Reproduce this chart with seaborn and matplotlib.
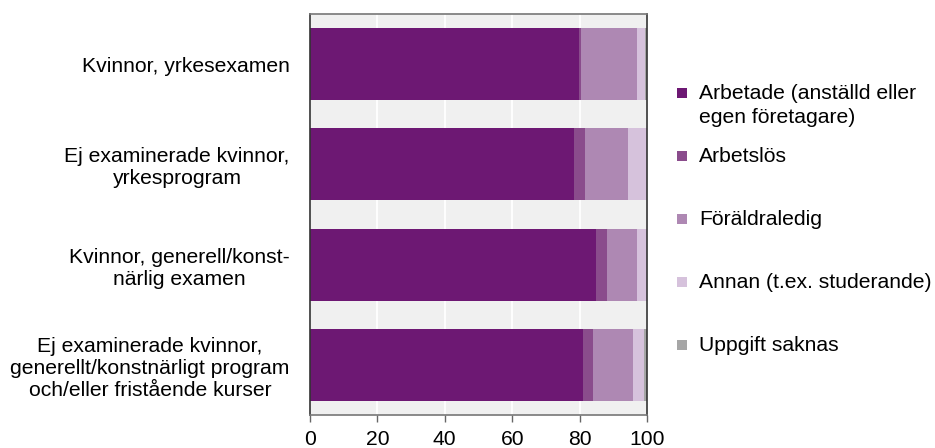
import matplotlib
matplotlib.use("Agg")
import matplotlib.pyplot as plt
from matplotlib.patches import Rectangle
import seaborn as sns
import pandas as pd

categories = [
    "Kvinnor, yrkesexamen",
    "Ej examinerade kvinnor,\nyrkesprogram",
    "Kvinnor, generell/konst-\nnärlig examen",
    "Ej examinerade kvinnor,\ngenerellt/konstnärligt program\noch/eller fristående kurser",
]
series_names = [
    "Arbetade (anställd eller\negen företagare)",
    "Arbetslös",
    "Föräldraledig",
    "Annan (t.ex. studerande)",
    "Uppgift saknas",
]
arbetade = [79.8, 78.4, 84.8, 81.0]
arbetslos = [0.7, 3.1, 3.4, 2.9]
foraldraledig = [16.5, 12.8, 8.7, 11.9]
annan = [2.3, 5.7, 3.1, 3.3]
uppgift_saknas = [0.7, 0.0, 0.0, 0.9]
colors = ["#6d1873", "#8a4c8c", "#ae88b3", "#d6c2dc", "#a6a6a6"]
xticks = [0, 20, 40, 60, 80, 100]

sns.set_theme(style="white")
plt.rcParams["font.family"] = ["Liberation Sans", "DejaVu Sans"]
plt.rcParams["text.color"] = "black"
plt.rcParams["xtick.color"] = "black"
plt.rcParams["ytick.color"] = "black"
FS = 15.2

df = pd.DataFrame(
    {
        series_names[0]: arbetade,
        series_names[1]: arbetslos,
        series_names[2]: foraldraledig,
        series_names[3]: annan,
        series_names[4]: uppgift_saknas,
    },
    index=categories,
)
cum = df.cumsum(axis=1)

fig = plt.figure(figsize=(9.35, 4.48), dpi=100)
ax = fig.add_axes([310 / 935, 1 - 415 / 448, 337 / 935, 401 / 448])
ax.set_facecolor("#f0f0f0")
ax.set_axisbelow(True)
ax.xaxis.grid(True, color="white", linewidth=1.3)
ax.yaxis.grid(False)

for name, col in reversed(list(zip(series_names, colors))):
    d = pd.DataFrame({"cat": categories, "val": cum[name].values})
    sns.barplot(data=d, x="val", y="cat", orient="h", color=col,
                width=0.72, linewidth=0, saturation=1, ax=ax)

ax.set_xlim(0, 100)
ax.set_ylim(3.5, -0.5)
ax.set_xticks(xticks)
ax.set_xticklabels([str(t) for t in xticks], fontsize=FS)
ax.set_xlabel("")
ax.set_ylabel("")
ax.tick_params(axis="x", bottom=True, length=5, width=1, color="#666666",
               labelcolor="black", pad=6)
ax.tick_params(axis="y", left=False, length=0, pad=14.5, labelcolor="black")
for lab in ax.get_yticklabels():
    lab.set_fontsize(FS)
    lab.set_multialignment("center")

for side in ["left", "right"]:
    ax.spines[side].set_color("#333333")
    ax.spines[side].set_linewidth(1.2)
for side in ["top", "bottom"]:
    ax.spines[side].set_color("#777777")
    ax.spines[side].set_linewidth(1.2)

# legend laid out in rows of equal height, square aligned to first line
row_top = 1 - 84 / 448
row_step = 63 / 448
for i, (name, col) in enumerate(zip(series_names, colors)):
    ytop = row_top - i * row_step
    fig.text(699 / 935, ytop, name, fontsize=FS, va="top", ha="left",
             linespacing=1.35, color="black")
    fig.add_artist(Rectangle((677 / 935, ytop - 14 / 448), 10 / 935, 10 / 448,
                             transform=fig.transFigure, color=col, lw=0))

fig.savefig("out.png", dpi=100)
